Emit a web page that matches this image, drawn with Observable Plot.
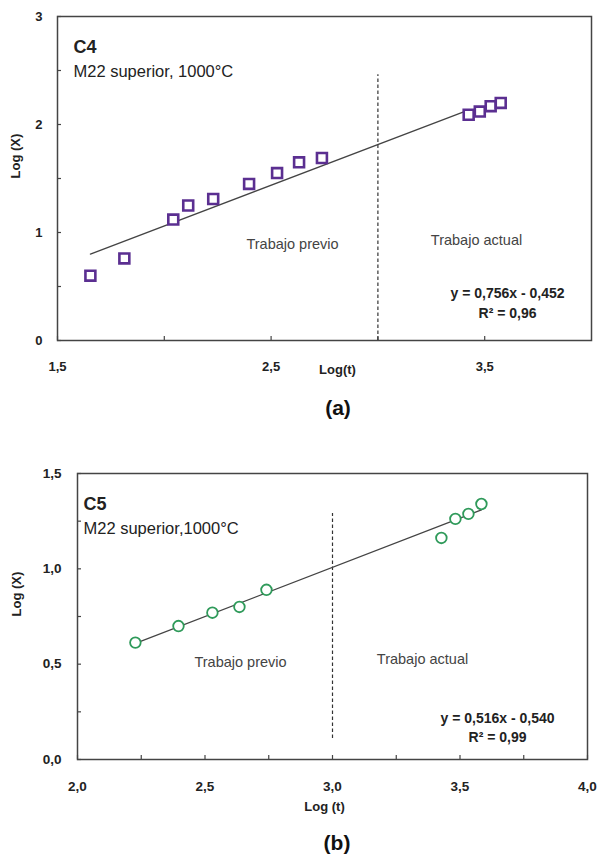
<!DOCTYPE html>
<html><head><meta charset="utf-8">
<script src="https://cdn.jsdelivr.net/npm/d3@7"></script>
<script src="https://cdn.jsdelivr.net/npm/@observablehq/plot@0.6"></script>
<style>
body{margin:0;background:#fff;}
#wrap{position:relative;width:598px;height:856px;font-family:"Liberation Sans",Arial,sans-serif;overflow:hidden;}
#wrap svg{position:absolute;left:0;overflow:visible;}
.cap{position:absolute;font-weight:bold;font-size:21px;transform:translate(-50%,-50%);color:#111;font-family:"Liberation Sans",Arial,sans-serif;}
</style></head><body><div id="wrap"></div>
<script>
// ---- Chart (a): C4 ----
const logTA = [1.654, 1.813, 2.042, 2.112, 2.229, 2.397, 2.528, 2.631, 2.738, 3.425, 3.477, 3.528, 3.575];
const logXA = [0.60, 0.76, 1.12, 1.25, 1.31, 1.45, 1.55, 1.65, 1.69, 2.09, 2.12, 2.17, 2.20];
const fitTA = [1.654, 3.42];
const fitXA = [0.80, 2.13];
const dividerA = [{x: 3.0, y1: 0, y2: 2.46}];
const xTicksA = [1.5, 2.5, 3.5];
const xTickLabelsA = ["1,5", "2,5", "3,5"];
const xMinorA = [2.0, 3.0];
const yTicksA = [0, 1, 2, 3];
const yTickLabelsA = ["0", "1", "2", "3"];
const yMinorA = [0.5, 1.5, 2.5];
const textsA = {title: "C4", sub: "M22 superior, 1000°C", prev: "Trabajo previo", act: "Trabajo actual", eq: "y = 0,756x - 0,452", r2: "R² = 0,96", xl: "Log(t)", yl: "Log (X)", cap: "(a)"};

// ---- Chart (b): C5 ----
const logTB = [2.227, 2.396, 2.529, 2.635, 2.741, 3.427, 3.482, 3.533, 3.584];
const logXB = [0.613, 0.70, 0.77, 0.80, 0.89, 1.162, 1.262, 1.288, 1.34];
const fitTB = [2.227, 3.584];
const fitXB = [0.609, 1.309];
const dividerB = [{x: 3.0, y1: 0.11, y2: 1.29}];
const xTicksB = [2.0, 2.5, 3.0, 3.5, 4.0];
const xTickLabelsB = ["2,0", "2,5", "3,0", "3,5", "4,0"];
const xMinorB = [2.25, 2.75, 3.25, 3.75];
const yTicksB = [0, 0.5, 1.0, 1.5];
const yTickLabelsB = ["0,0", "0,5", "1,0", "1,5"];
const yMinorB = [0.25, 0.75, 1.25];
const textsB = {title: "C5", sub: "M22 superior,1000°C", prev: "Trabajo previo", act: "Trabajo actual", eq: "y = 0,516x - 0,540", r2: "R² = 0,99", xl: "Log (t)", yl: "Log (X)", cap: "(b)"};

const FONT = "Liberation Sans, Arial, sans-serif";
const AX = "#444";

function chart(cfg) {
  const pts = cfg.t.map((t, i) => ({t, x: cfg.x[i]}));
  const fit = cfg.ft.map((t, i) => ({t, x: cfg.fx[i]}));
  const txt = (s, o) => Plot.text([s], {text: d => d, frameAnchor: "top-left", fontFamily: FONT, fill: "#222", ...o});
  return Plot.plot({
    width: 598, height: cfg.height,
    marginLeft: cfg.ml, marginRight: cfg.mr, marginTop: cfg.mt, marginBottom: cfg.mb,
    style: {fontFamily: FONT, background: "transparent", overflow: "visible"},
    x: {domain: cfg.xd},
    y: {domain: cfg.yd},
    marks: [
      Plot.frame({stroke: AX, strokeWidth: 1.5}),
      Plot.axisX({ticks: cfg.xt, tickFormat: (d, i) => cfg.xtl[i], tickSize: -4, tickPadding: cfg.xpad, fontSize: cfg.tfs, fontWeight: "bold", fill: "#222", stroke: AX, strokeWidth: 1.2, label: null}),
      Plot.axisX({ticks: cfg.xm, tickFormat: () => "", tickSize: -4, stroke: AX, strokeWidth: 1.2, label: null}),
      Plot.axisY({ticks: cfg.yt, tickFormat: (d, i) => cfg.ytl[i], tickSize: -4, tickPadding: cfg.ypad, fontSize: cfg.tfs, fontWeight: "bold", fill: "#222", stroke: AX, strokeWidth: 1.2, label: null}),
      Plot.axisY({ticks: cfg.ym, tickFormat: () => "", tickSize: -4, stroke: AX, strokeWidth: 1.2, label: null}),
      Plot.ruleX(cfg.div, {x: "x", y1: "y1", y2: "y2", stroke: "#333", strokeWidth: 1.2, strokeDasharray: "3.5,2.5"}),
      Plot.line(fit, {x: "t", y: "x", stroke: "#444", strokeWidth: 1.3}),
      Plot.dot(pts, {x: "t", y: "x", symbol: cfg.sym, r: cfg.r, stroke: cfg.color, strokeWidth: cfg.sw, fill: "white"}),
      txt(cfg.T.title, {dx: cfg.p.title[0], dy: cfg.p.title[1], fontWeight: "bold", fontSize: 18, textAnchor: "start"}),
      txt(cfg.T.sub, {dx: cfg.p.sub[0], dy: cfg.p.sub[1], fontSize: 16.5, textAnchor: "start"}),
      txt(cfg.T.prev, {dx: cfg.p.prev[0], dy: cfg.p.prev[1], fontSize: 14.5, fill: "#444", textAnchor: "middle"}),
      txt(cfg.T.act, {dx: cfg.p.act[0], dy: cfg.p.act[1], fontSize: 14.5, fill: "#444", textAnchor: "middle"}),
      txt(cfg.T.eq, {dx: cfg.p.eq[0], dy: cfg.p.eq[1], fontSize: 14, fontWeight: "bold", textAnchor: "middle"}),
      txt(cfg.T.r2, {dx: cfg.p.r2[0], dy: cfg.p.r2[1], fontSize: 14, fontWeight: "bold", textAnchor: "middle"}),
      Plot.text([cfg.T.xl], {text: d => d, frameAnchor: "bottom", dx: cfg.p.xl[0], dy: cfg.p.xl[1], fontSize: 13, fontWeight: "bold", fill: "#222", fontFamily: FONT}),
      Plot.text([cfg.T.yl], {text: d => d, frameAnchor: "left", rotate: -90, dx: cfg.p.yl[0], dy: cfg.p.yl[1], fontSize: 13, fontWeight: "bold", fill: "#222", fontFamily: FONT})
    ]
  });
}

const wrap = document.getElementById("wrap");

const a = chart({
  height: 390, ml: 57, mr: 7, mt: 16, mb: 50,
  xd: [1.5, 4.0], yd: [0, 3],
  t: logTA, x: logXA, ft: fitTA, fx: fitXA, div: dividerA,
  xt: xTicksA, xtl: xTickLabelsA, xm: xMinorA, yt: yTicksA, ytl: yTickLabelsA, ym: yMinorA,
  xpad: 25, ypad: 19, tfs: 13,
  sym: "square", r: 5.6, sw: 2.6, color: "#5b2f91",
  T: textsA,
  p: {title: [16, 24], sub: [16, 49], prev: [235, 222], act: [419, 218], eq: [450, 272], r2: [450, 292], xl: [13, 33], yl: [-42, 0]}
});
a.style.top = "0px";
wrap.appendChild(a);

const b = chart({
  height: 426, ml: 77, mr: 11, mt: 43, mb: 97,
  xd: [2.0, 4.0], yd: [0, 1.5],
  t: logTB, x: logXB, ft: fitTB, fx: fitXB, div: dividerB,
  xt: xTicksB, xtl: xTickLabelsB, xm: xMinorB, yt: yTicksB, ytl: yTickLabelsB, ym: yMinorB,
  xpad: 26, ypad: 20, tfs: 13.5,
  sym: "circle", r: 5.3, sw: 1.8, color: "#2f9a5a",
  T: textsB,
  p: {title: [6, 24], sub: [6, 49], prev: [163, 183], act: [345, 180], eq: [420, 240], r2: [420, 259], xl: [-8, 51], yl: [-61, 0]}
});
b.style.top = "430px";
wrap.appendChild(b);

function cap(text, x, y) {
  const d = document.createElement("div");
  d.className = "cap"; d.textContent = text;
  d.style.left = x + "px"; d.style.top = y + "px";
  wrap.appendChild(d);
}
cap(textsA.cap, 338, 408);
cap(textsB.cap, 337, 843);
</script></body></html>
